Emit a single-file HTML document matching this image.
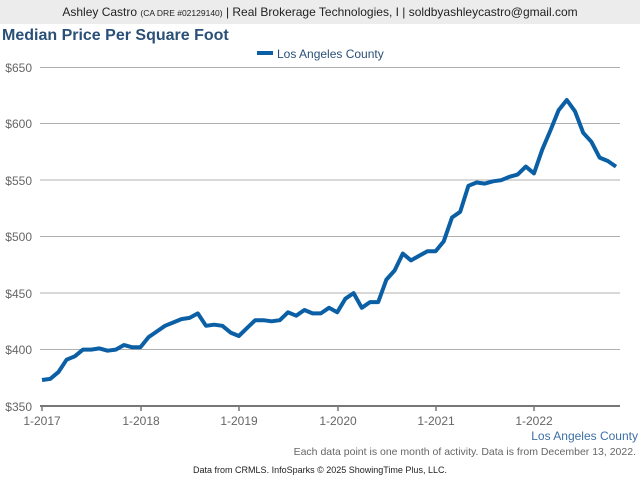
<!DOCTYPE html>
<html><head><style>
body{margin:0;width:640px;height:480px;background:#fff;font-family:"Liberation Sans",sans-serif;overflow:hidden}
</style></head><body>
<svg width="640" height="480" xmlns="http://www.w3.org/2000/svg" font-family="Liberation Sans, sans-serif">
<rect x="0" y="0" width="640" height="24" fill="#ececec"/>
<text x="320" y="16" text-anchor="middle" font-size="12" fill="#222">Ashley Castro <tspan font-size="8.5">(CA DRE #02129140)</tspan> | Real Brokerage Technologies, I | soldbyashleycastro@gmail.com</text>
<text x="2" y="40" font-size="16" font-weight="bold" fill="#2a5078">Median Price Per Square Foot</text>
<rect x="257" y="51" width="16" height="4" fill="#0b5fa5"/>
<text x="277" y="58" font-size="12" fill="#2a5078">Los Angeles County</text>
<g stroke="#b0b0b0" stroke-width="1">
<line x1="40" y1="67.5" x2="620" y2="67.5"/>
<line x1="40" y1="123.5" x2="620" y2="123.5"/>
<line x1="40" y1="180" x2="620" y2="180"/>
<line x1="40" y1="236.5" x2="620" y2="236.5"/>
<line x1="40" y1="293" x2="620" y2="293"/>
<line x1="40" y1="349.5" x2="620" y2="349.5"/>
</g>
<line x1="40" y1="406" x2="620" y2="406" stroke="#777" stroke-width="2"/>
<g stroke="#777" stroke-width="1.5">
<line x1="42" y1="406" x2="42" y2="411"/><line x1="141" y1="406" x2="141" y2="411"/><line x1="239" y1="406" x2="239" y2="411"/><line x1="338" y1="406" x2="338" y2="411"/><line x1="436" y1="406" x2="436" y2="411"/><line x1="534" y1="406" x2="534" y2="411"/>
</g>
<g font-size="12" fill="#666" text-anchor="end">
<text x="32" y="72">$650</text><text x="32" y="128">$600</text><text x="32" y="185">$550</text><text x="32" y="241">$500</text><text x="32" y="298">$450</text><text x="32" y="354">$400</text><text x="32" y="411">$350</text>
</g>
<g font-size="12" fill="#666" text-anchor="middle">
<text x="42" y="425">1-2017</text><text x="141" y="425">1-2018</text><text x="239" y="425">1-2019</text><text x="338" y="425">1-2020</text><text x="436" y="425">1-2021</text><text x="534" y="425">1-2022</text>
</g>
<text x="638" y="440" text-anchor="end" font-size="12" fill="#3d6fa5">Los Angeles County</text>
<text x="636" y="455" text-anchor="end" font-size="10.5" fill="#666">Each data point is one month of activity. Data is from December 13, 2022.</text>
<text x="320" y="473" text-anchor="middle" font-size="9" fill="#222">Data from CRMLS. InfoSparks © 2025 ShowingTime Plus, LLC.</text>
<polyline fill="none" stroke="#0b5fa5" stroke-width="4" stroke-linejoin="round" points="42,380 50.2,378.9 58.4,372.1 66.6,359.7 74.8,356.3 83,349.6 91.2,349.6 99.4,348.4 107.6,350.7 115.8,349.6 124,345 132.2,347.3 140.4,347.3 148.6,337.1 156.8,331.5 165,325.8 173.2,322.5 181.4,319.1 189.6,317.9 197.8,313.4 206,325.8 214.2,324.7 222.4,325.8 230.6,332.6 238.8,336 247,328.1 255.2,320.2 263.4,320.2 271.6,321.3 279.8,320.2 288,312.3 296.2,315.7 304.4,310 312.6,313.4 320.8,313.4 329,307.8 337.2,312.3 345.4,298.7 353.6,293.1 361.8,307.8 370,302.1 378.2,302.1 386.4,279.6 394.6,270.5 402.8,253.6 411,260.4 419.2,255.8 427.4,251.3 435.6,251.3 443.8,241.2 452,217.5 460.2,211.8 468.4,185.8 476.6,182.5 484.8,183.6 493,181.3 501.2,180.2 509.4,176.8 517.6,174.6 525.8,166.6 534,173.4 542.2,149.7 550.4,130.5 558.6,110.2 566.8,100 575,111.3 583.2,132.8 591.4,141.8 599.6,157.6 607.8,161 616,166.6"/>
</svg>
</body></html>
